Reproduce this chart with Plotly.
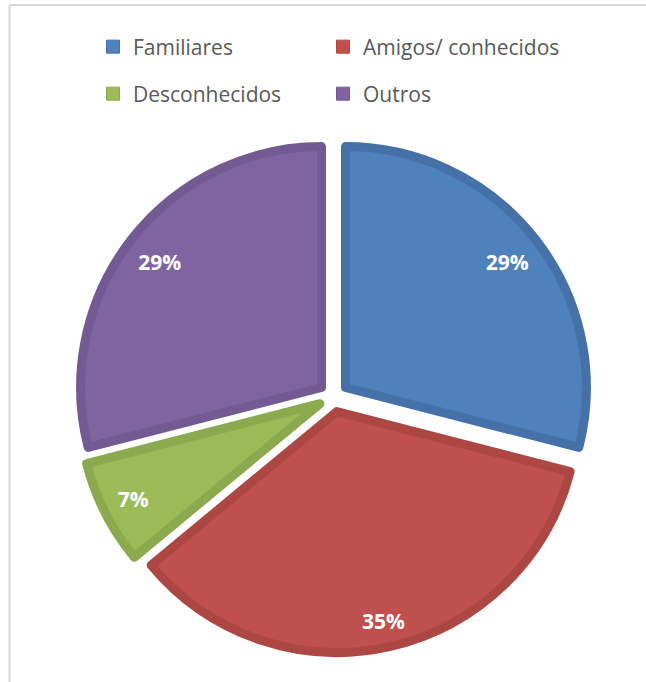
import plotly.graph_objects as go

labels = ["Familiares", "Amigos/ conhecidos", "Desconhecidos", "Outros"]
values = [29, 35, 7, 29]
fill_colors = ["#4F81BD", "#C0504D", "#9BBB59", "#8064A2"]
line_colors = ["#4571A8", "#AD4744", "#8BAA4F", "#735A92"]

W, H = 646, 682
pie_domain = dict(x=[77.4 / W, 589.6 / W], y=[29.1 / H, 541.3 / H])
pull = [0.063] * len(values)
# ring (hole) used to place each slice's percentage label radially
label_holes = [0.70, 0.78, 0.74, 0.70]

fig = go.Figure()

# filled slices
fig.add_trace(go.Pie(
    labels=labels,
    values=values,
    sort=False,
    direction="clockwise",
    rotation=0,
    pull=pull,
    marker=dict(colors=fill_colors, line=dict(color=line_colors, width=9)),
    textinfo="none",
    domain=pie_domain,
    showlegend=False,
    hoverinfo="label+percent",
))

# percentage labels placed in transparent rings with identical geometry
for k in range(len(values)):
    tmpl = ["" for _ in values]
    tmpl[k] = "%{percent:.0%}"
    fig.add_trace(go.Pie(
        labels=labels,
        values=values,
        sort=False,
        direction="clockwise",
        rotation=0,
        pull=pull,
        hole=label_holes[k],
        marker=dict(colors=["rgba(0,0,0,0)"] * len(values),
                    line=dict(color="rgba(0,0,0,0)", width=0)),
        texttemplate=tmpl,
        textposition="inside",
        insidetextorientation="horizontal",
        textfont=dict(family="Open Sans", size=21, color="white", weight="bold"),
        domain=pie_domain,
        showlegend=False,
        hoverinfo="skip",
    ))

# legend entries, one legend per cell of the 2x2 grid
legend_pos = [(93, 47), (323, 47), (93, 94), (323, 94)]
legend_layout = {}
for i in range(len(labels)):
    lname = "legend" if i == 0 else f"legend{i + 1}"
    fig.add_trace(go.Scatter(
        x=[None], y=[None], mode="markers", name=labels[i],
        marker=dict(symbol="square", size=13, color=fill_colors[i],
                    line=dict(color=line_colors[i], width=1)),
        legend=lname, showlegend=True,
    ))
    px, py = legend_pos[i]
    legend_layout[lname] = dict(
        x=px / W, y=1 - py / H,
        orientation="h", xanchor="left", yanchor="middle",
        font=dict(family="Open Sans", size=21, color="#595959"),
        bgcolor="rgba(0,0,0,0)", borderwidth=0,
    )

fig.update_layout(
    width=W, height=H,
    margin=dict(l=0, r=0, t=0, b=0),
    paper_bgcolor="white", plot_bgcolor="white",
    xaxis=dict(visible=False), yaxis=dict(visible=False),
    shapes=[
        dict(type="line", xref="paper", yref="paper", x0=9.5 / W, x1=1.01,
             y0=1 - 5 / H, y1=1 - 5 / H, line=dict(color="#D9D9D9", width=2)),
        dict(type="line", xref="paper", yref="paper", x0=9.5 / W, x1=9.5 / W,
             y0=1 - 5 / H, y1=-0.01, line=dict(color="#D9D9D9", width=2)),
    ],
    **legend_layout,
)

fig.write_html("out.html")
